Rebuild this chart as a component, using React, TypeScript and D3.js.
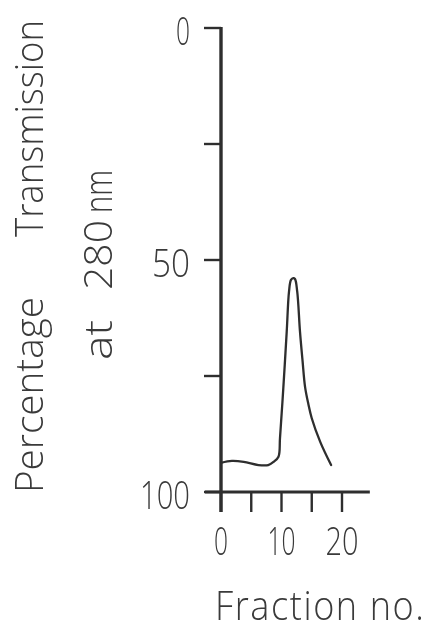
import React from "react";
import * as d3 from "d3";

const fraction = [0, 1.8, 3.75, 6.2, 7.8, 8.7, 9.5, 9.75, 10.3, 10.86, 11.24, 11.57, 11.95, 12.23, 12.6, 13.06, 13.47, 13.9, 14.43, 15.0, 16.4, 18.2];
const transmission = [93.7, 93.3, 93.5, 94.2, 94.2, 93.5, 92.4, 88.4, 77.6, 65.5, 56.8, 54.3, 53.9, 54.1, 56.8, 65.5, 71.6, 77.4, 81.0, 84.1, 89.2, 94.2];

const yTicks = [0, 25, 50, 75, 100];
const yTickLabels = ["0", "", "50", "", "100"];
const xTicks = [0, 5, 10, 15, 20];
const xTickLabels = ["0", "", "10", "", "20"];
const xAxisEnd = 24.6;

const FONT = "'Open Sans', 'DejaVu Sans', sans-serif";
const TEXT = "#3a3a3a";
const INK = "#2e2e2e";

export default function App() {
  const W = 427, H = 632;
  const x = d3.scaleLinear().domain([0, 20]).range([221, 342]);
  const y = d3.scaleLinear().domain([0, 100]).range([28, 492]);

  const pts = fraction.map((f, i) => [f, transmission[i]] as [number, number]);
  const line = d3.line<[number, number]>()
    .x(d => x(d[0]))
    .y(d => y(d[1]))
    .curve(d3.curveCatmullRom.alpha(0.5));

  const labelW: Record<string, number> = { "0": 14, "10": 28, "20": 33, "50": 38, "100": 50 };

  return (
    <svg width={W} height={H} viewBox={`0 0 ${W} ${H}`}
      style={{ position: "absolute", left: 0, top: 0, background: "#fff" }}>
      <rect x={0} y={0} width={W} height={H} fill="#fff" />
      <g opacity={0.999}>
        {/* y axis */}
        <line x1={x(0)} x2={x(0)} y1={y(0) - 1} y2={y(100) + 20} stroke={INK} strokeWidth={3.4} />
        {yTicks.map((t, i) => (
          <g key={"yt" + t}>
            <line x1={x(0) - 17} x2={x(0)} y1={y(t)} y2={y(t)} stroke={INK} strokeWidth={2.4} />
            {yTickLabels[i] && (
              <text x={190} y={y(t) + 1} textAnchor="end" dominantBaseline="central"
                fontFamily={FONT} fontWeight={300} fontSize={39} fill={TEXT}
                textLength={labelW[yTickLabels[i]]} lengthAdjust="spacingAndGlyphs">
                {yTickLabels[i]}
              </text>
            )}
          </g>
        ))}
        {/* x axis */}
        <line x1={x(0) - 16} x2={x(xAxisEnd)} y1={y(100)} y2={y(100)} stroke={INK} strokeWidth={3.2} />
        {xTicks.map((t, i) => (
          <g key={"xt" + t}>
            <line x1={x(t)} x2={x(t)} y1={y(100)} y2={y(100) + 20} stroke={INK} strokeWidth={2.4} />
            {xTickLabels[i] && (
              <text x={x(t)} y={555} textAnchor="middle"
                fontFamily={FONT} fontWeight={300} fontSize={38} fill={TEXT}
                textLength={labelW[xTickLabels[i]]} lengthAdjust="spacingAndGlyphs">
                {xTickLabels[i]}
              </text>
            )}
          </g>
        ))}
        {/* curve */}
        <path d={line(pts) || ""} fill="none" stroke={INK} strokeWidth={2.3} strokeLinejoin="round" strokeLinecap="round" />
        {/* x title */}
        <g transform="translate(215,620) scale(0.88,1)">
          <text x={0} y={0} fontFamily={FONT} fontWeight={300} fontSize={41} fill={TEXT} letterSpacing={1.8}>Fraction no.</text>
        </g>
        {/* y title */}
        <g fontFamily={FONT} fontWeight={300} fontSize={39} fill={TEXT}>
          <text transform="translate(43,493) rotate(-90)" textLength={196} lengthAdjust="spacingAndGlyphs">Percentage</text>
          <text transform="translate(43,237) rotate(-90)" textLength={217} lengthAdjust="spacingAndGlyphs">Transmission</text>
          <text transform="translate(112,360) rotate(-90)" textLength={40} lengthAdjust="spacingAndGlyphs">at</text>
          <text transform="translate(112,290) rotate(-90)" textLength={70} lengthAdjust="spacingAndGlyphs">280</text>
          <text transform="translate(112,213) rotate(-90)" textLength={43} lengthAdjust="spacingAndGlyphs">nm</text>
        </g>
      </g>
    </svg>
  );
}
